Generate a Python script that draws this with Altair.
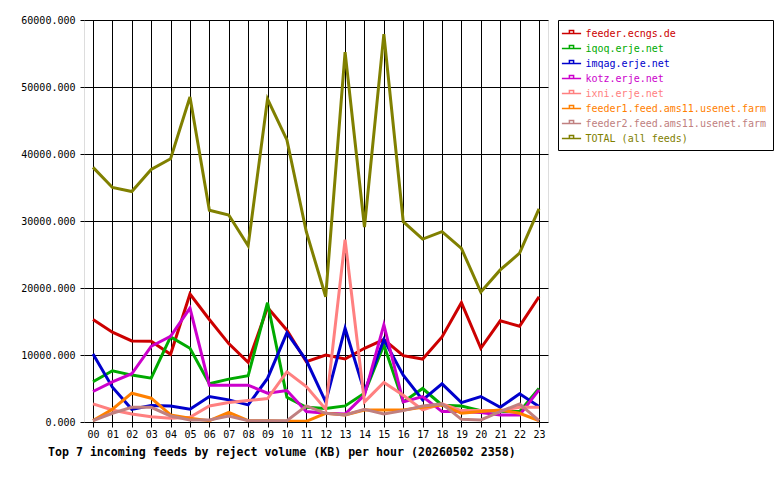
import altair as alt
import pandas as pd

hours = [f"{h:02d}" for h in range(24)]

feeds = [
    "feeder.ecngs.de",
    "iqoq.erje.net",
    "imqag.erje.net",
    "kotz.erje.net",
    "ixni.erje.net",
    "feeder1.feed.ams11.usenet.farm",
    "feeder2.feed.ams11.usenet.farm",
    "TOTAL (all feeds)",
]
colors = ["#cc0000", "#00aa00", "#0000cc", "#cc00cc", "#ff8080", "#ff8000", "#c08080", "#808000"]

ecngs = [15300, 13400, 12100, 12050, 10100, 19100, 15300, 11700, 8900, 17100, 13700, 9000,
         10000, 9400, 11000, 12300, 9900, 9400, 12700, 17800, 11000, 15100, 14300, 18700]
iqoq = [6000, 7650, 7000, 6550, 12700, 11000, 5700, 6400, 6900, 17800, 3700, 2200,
        2000, 2400, 4300, 11500, 3000, 5000, 2500, 2400, 1700, 1600, 1550, 5000]
imqag = [10150, 5200, 1900, 2450, 2400, 1900, 3800, 3300, 2550, 6500, 13300, 9200,
         3000, 14000, 4500, 12300, 7000, 3300, 5700, 2900, 3800, 2200, 4200, 2300]
kotz = [4550, 6000, 7200, 11300, 12800, 17000, 5500, 5500, 5500, 4300, 4700, 1550,
        1300, 1200, 4000, 14500, 3000, 3800, 1550, 1550, 1400, 1050, 1050, 4800]
ixni = [2700, 1800, 1200, 800, 550, 700, 2400, 2900, 3200, 3500, 7500, 5300,
        1900, 27200, 3000, 5900, 4000, 1800, 2700, 1700, 1700, 1700, 2200, 2200]
feeder1 = [200, 1900, 4300, 3550, 1050, 550, 200, 1450, 200, 200, 100, 100,
           1300, 1050, 1800, 1800, 1800, 2200, 2550, 1300, 1550, 1800, 1300, 200]
feeder2 = [200, 1300, 2200, 2200, 900, 300, 300, 900, 200, 200, 200, 2400,
           1300, 1050, 1900, 1200, 1700, 2400, 2700, 400, 300, 1550, 2700, 200]
total = [38000, 35000, 34400, 37700, 39300, 48500, 31600, 30900, 26300, 48200, 42100, 28400,
         18700, 55200, 29100, 57900, 29900, 27300, 28400, 25900, 19400, 22700, 25200, 31800]

series = [ecngs, iqoq, imqag, kotz, ixni, feeder1, feeder2, total]

rows = []
for i, (name, vals) in enumerate(zip(feeds, series)):
    for h, v in zip(hours, vals):
        rows.append({"hour": h, "value": v, "feed": name, "order": i})
df = pd.DataFrame(rows)

mono = "DejaVu Sans Mono"

chart = alt.Chart(df).mark_line(strokeWidth=3, strokeJoin="miter", clip=True).encode(
    x=alt.X("hour:N", sort=hours,
            scale=alt.Scale(type="point", padding=0.465),
            axis=alt.Axis(title=None, labelAngle=0, grid=True, gridColor="#000000",
                          gridOpacity=1, gridWidth=1, tickColor="#000000", tickSize=5,
                          domain=False, labelFont=mono, labelFontSize=10, labelColor="#000000",
                          labelPadding=2)),
    y=alt.Y("value:Q",
            scale=alt.Scale(domain=[0, 60000], nice=False),
            axis=alt.Axis(title=None, values=[0, 10000, 20000, 30000, 40000, 50000, 60000],
                          format=".3f", grid=True, gridColor="#000000", gridOpacity=1,
                          gridWidth=1, tickColor="#000000", tickSize=4, domain=False,
                          labelFont=mono, labelFontSize=10, labelColor="#000000",
                          labelPadding=5)),
    color=alt.Color("feed:N",
                    scale=alt.Scale(domain=feeds, range=colors),
                    legend=alt.Legend(
                        title=None, orient="none", legendX=474, legendY=0,
                        direction="vertical",
                        symbolType="M-1.6,0H1.6M-0.35,0V-0.5H0.35V0",
                        symbolSize=144, symbolStrokeWidth=1.5, symbolFillColor="transparent",
                        labelFont=mono, labelFontSize=10, labelOffset=7,
                        labelLimit=300, rowPadding=3, padding=6.5,
                        strokeColor="#000000", fillColor="#ffffff",
                        labelColor={"expr": "scale('color', datum.value)"},
                    )),
    order=alt.Order("order:Q"),
    detail="order:N",
).properties(
    width=464,
    height=402,
    padding={"left": 84, "top": 20, "right": 232, "bottom": 58},
    autosize=alt.AutoSizeParams(type="none"),
    title=alt.TitleParams(
        "Top 7 incoming feeds by reject volume (KB) per hour (20260502 2358)",
        orient="bottom", anchor="start", frame="group", font=mono, fontSize=11.6,
        fontWeight="bold", color="#000000", offset=8, dx=-36,
    ),
).configure_view(
    fill="#e0e0e0", stroke="#000000", strokeWidth=1
).configure(background="#ffffff")

chart.save("out.html", embed_options={"renderer": "svg", "actions": False})
